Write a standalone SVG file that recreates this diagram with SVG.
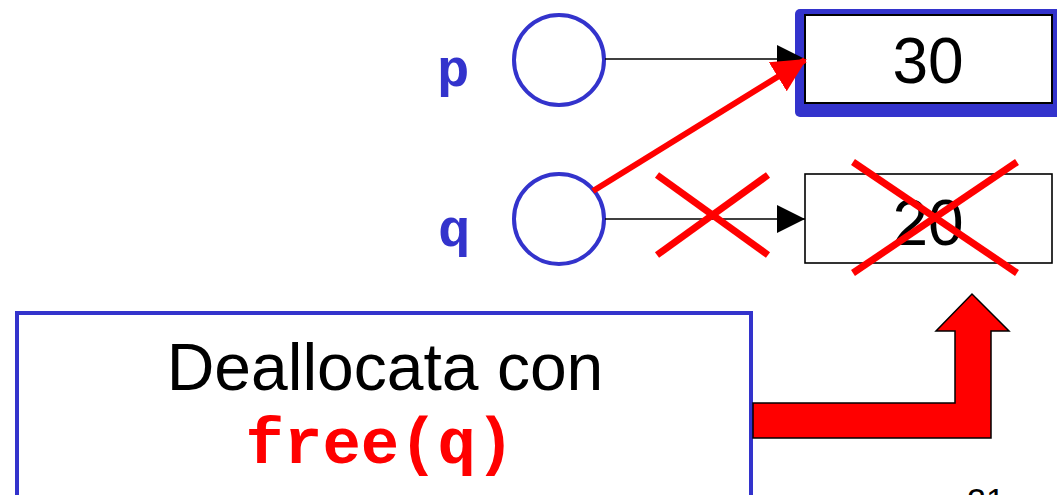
<svg xmlns="http://www.w3.org/2000/svg" width="1057" height="495" viewBox="0 0 1057 495">
<style>
.var{fill:none;stroke:#3333cc;stroke-width:4}
.lbl{font-family:"Liberation Mono",monospace;font-weight:bold;font-size:54px;fill:#3333cc}
.val{font-family:"Liberation Sans",Arial,sans-serif;font-size:64px;fill:#000;text-anchor:middle}
.ptr{stroke:#000;stroke-width:1.6;fill:none}
.cross{stroke:#ff0000;stroke-width:7;stroke-linecap:butt}
</style>
<defs>
<marker id="ah" viewBox="0 0 28 28" refX="28" refY="14" markerWidth="28" markerHeight="28" markerUnits="userSpaceOnUse" orient="auto">
<path d="M0,0 L28,14 L0,28 z" fill="#000"/>
</marker>
<marker id="ahr" viewBox="0 0 34 34" refX="32" refY="17" markerWidth="34" markerHeight="34" markerUnits="userSpaceOnUse" orient="auto">
<path d="M0,0 L34,17 L0,34 z" fill="#ff0000"/>
</marker>
</defs>
<rect width="1057" height="495" fill="#fff"/>
<g id="var-p">
<text class="lbl" x="437" y="86">p</text>
<circle class="var" cx="559" cy="60" r="45"/>
</g>
<g id="var-q">
<text class="lbl" x="438" y="246">q</text>
<circle class="var" cx="559" cy="219" r="45"/>
</g>
<g id="box30">
<rect x="795" y="9" width="270" height="108" rx="5" fill="#3333cc"/>
<rect x="805" y="15" width="247" height="88" fill="#fff" stroke="#000" stroke-width="2"/>
<text class="val" x="928" y="83">30</text>
</g>
<g id="box20">
<rect x="805" y="174" width="247" height="89" fill="#fff" stroke="#000" stroke-width="1.6"/>
<text class="val" x="928" y="245">20</text>
</g>
<g id="connectors">
<line class="ptr" x1="605" y1="59" x2="805" y2="59" marker-end="url(#ah)"/>
<line class="ptr" x1="605" y1="219" x2="805" y2="219" marker-end="url(#ah)"/>
<line x1="593" y1="191" x2="805" y2="60" stroke="#ff0000" stroke-width="6" marker-end="url(#ahr)"/>
</g>
<g id="crosses">
<line class="cross" x1="657" y1="175" x2="768" y2="255"/>
<line class="cross" x1="768" y1="175" x2="657" y2="255"/>
<line class="cross" x1="853" y1="162" x2="1017" y2="273"/>
<line class="cross" x1="1017" y1="162" x2="853" y2="273"/>
</g>
<g id="note">
<rect x="17" y="313" width="734" height="200" fill="#fff" stroke="#3333cc" stroke-width="4"/>
<text x="385" y="390" font-family="Liberation Sans,Arial,sans-serif" font-size="66" text-anchor="middle" fill="#000">Deallocata con</text>
<text x="380" y="463" font-family="Liberation Mono,monospace" font-weight="bold" font-size="64" text-anchor="middle" fill="#ff0000">free(q)</text>
</g>
<g id="big-arrow">
<polygon points="753,403 955,403 955,331 936,331 972,294 1009,331 991,331 991,438 753,438" fill="#ff0000" stroke="#000" stroke-width="1.5"/>
</g>
<text x="986" y="512" font-family="Liberation Sans,Arial,sans-serif" font-size="34" text-anchor="middle" fill="#000">21</text>
</svg>
